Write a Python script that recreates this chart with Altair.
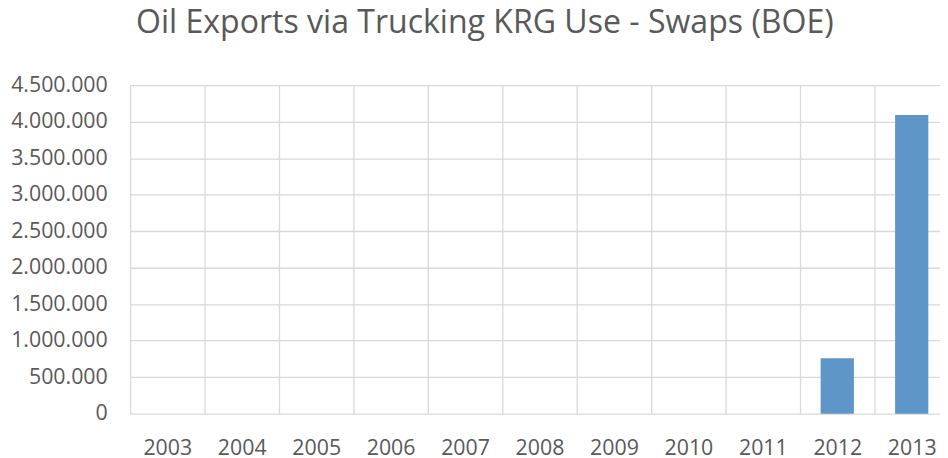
import altair as alt
import pandas as pd

years = [2003, 2004, 2005, 2006, 2007, 2008, 2009, 2010, 2011, 2012, 2013]
values = [0, 0, 0, 0, 0, 0, 0, 0, 0, 760000, 4090000]
y_ticks = [0, 500000, 1000000, 1500000, 2000000, 2500000, 3000000, 3500000, 4000000, 4500000]

df = pd.DataFrame({"year": years, "value": values})

# category boundaries (half-way between years) carry the vertical gridlines
boundaries = [y - 0.5 for y in years]

FONT = "Open Sans"
GRID = "#D9D9D9"
TEXT = "#595959"

W = 816
STEP = 75.0

chart = alt.Chart(df).mark_bar(width=33.5, color="#5F96CA").encode(
    x=alt.X("year:Q",
            scale=alt.Scale(domain=[years[0] - 0.5, years[0] - 0.5 + W / STEP],
                            nice=False, zero=False, padding=0),
            axis=alt.Axis(title=None, domain=False, ticks=False, grid=True, values=boundaries,
                          gridColor=GRID, gridWidth=1.3, labelAngle=0,
                          labelFont=FONT, labelFontSize=21.5, labelColor=TEXT,
                          labelPadding=24, labelBaseline="top", labelAlign="center",
                          labelOffset=STEP / 2, labelFlush=False, labelOverlap=False,
                          labelExpr="format(datum.value + 0.5, 'd')")),
    y=alt.Y("value:Q",
            scale=alt.Scale(domain=[0, 4500000], nice=False, padding=0),
            axis=alt.Axis(title=None, domain=False, ticks=False, grid=True, values=y_ticks,
                          gridColor=GRID, gridWidth=1.3,
                          labelFont=FONT, labelFontSize=21.5, labelColor=TEXT, labelPadding=23,
                          labelExpr="replace(format(datum.value, ','), regexp(',', 'g'), '.')")),
).properties(
    width=W,
    height=331,
    title=alt.TitleParams("Oil Exports via Trucking KRG Use - Swaps (BOE)",
                          font=FONT, fontSize=32.3, fontWeight="normal", color=TEXT,
                          anchor="start", frame="group", dx=6, offset=35.5),
    autosize=alt.AutoSizeParams(type="none"),
    padding={"left": 123, "top": 76, "right": 0, "bottom": 43},
).configure_view(stroke=None)

chart.save("out.html", embed_options={"renderer": "svg", "actions": False})
